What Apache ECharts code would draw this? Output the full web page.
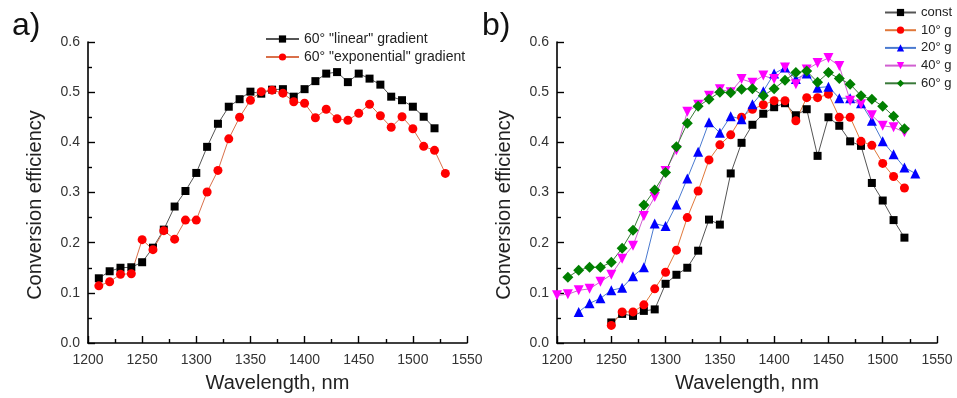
<!DOCTYPE html>
<html>
<head>
<meta charset="utf-8">
<script src="https://cdn.jsdelivr.net/npm/echarts@6/dist/echarts.min.js"></script>
<style>html,body{margin:0;padding:0;background:#fff;}#c{width:957px;height:398px;}</style>
</head>
<body>
<div id="c"></div>
<script>
// ---- Panel a data ----
const wlLinear = [1210,1220,1230,1240,1250,1260,1270,1280,1290,1300,1310,1320,1330,1340,1350,1360,1370,1380,1390,1400,1410,1420,1430,1440,1450,1460,1470,1480,1490,1500,1510,1520];
const effLinear = [0.129,0.143,0.150,0.151,0.161,0.190,0.226,0.272,0.303,0.339,0.391,0.437,0.471,0.486,0.501,0.497,0.505,0.506,0.491,0.506,0.522,0.537,0.540,0.520,0.537,0.527,0.515,0.491,0.484,0.471,0.451,0.428];
const wlExp = [1210,1220,1230,1240,1250,1260,1270,1280,1290,1300,1310,1320,1330,1340,1350,1360,1370,1380,1390,1400,1410,1420,1430,1440,1450,1460,1470,1480,1490,1500,1510,1520,1530];
const effExp = [0.114,0.122,0.137,0.138,0.206,0.186,0.224,0.207,0.245,0.245,0.301,0.344,0.407,0.450,0.484,0.501,0.504,0.498,0.481,0.478,0.449,0.466,0.447,0.444,0.458,0.476,0.453,0.430,0.451,0.427,0.392,0.384,0.338];

// ---- Panel b data ----
const wlConst = [1250,1260,1270,1280,1290,1300,1310,1320,1330,1340,1350,1360,1370,1380,1390,1400,1410,1420,1430,1440,1450,1460,1470,1480,1490,1500,1510,1520];
const effConst = [0.041,0.058,0.054,0.064,0.067,0.118,0.136,0.150,0.184,0.246,0.236,0.338,0.399,0.435,0.457,0.470,0.478,0.454,0.466,0.373,0.450,0.433,0.402,0.393,0.319,0.284,0.245,0.210];
const wl10 = [1250,1260,1270,1280,1290,1300,1310,1320,1330,1340,1350,1360,1370,1380,1390,1400,1410,1420,1430,1440,1450,1460,1470,1480,1490,1500,1510,1520];
const eff10 = [0.035,0.062,0.062,0.076,0.108,0.141,0.185,0.250,0.303,0.365,0.395,0.415,0.450,0.466,0.475,0.483,0.483,0.443,0.489,0.489,0.496,0.450,0.450,0.402,0.394,0.358,0.332,0.309];
const wl20 = [1220,1230,1240,1250,1260,1270,1280,1290,1300,1310,1320,1330,1340,1350,1360,1370,1380,1390,1400,1410,1420,1430,1440,1450,1460,1470,1480,1490,1500,1510,1520,1530];
const eff20 = [0.062,0.079,0.089,0.105,0.110,0.133,0.151,0.238,0.233,0.276,0.328,0.381,0.440,0.419,0.452,0.446,0.476,0.502,0.537,0.549,0.526,0.537,0.509,0.511,0.488,0.488,0.478,0.443,0.402,0.376,0.350,0.338];
const wl40 = [1200,1210,1220,1230,1240,1250,1260,1270,1280,1290,1300,1310,1320,1330,1340,1350,1360,1370,1380,1390,1400,1410,1420,1430,1440,1450,1460,1470,1480,1490,1500,1510,1520];
const eff40 = [0.095,0.097,0.105,0.108,0.122,0.136,0.168,0.194,0.253,0.291,0.343,0.384,0.461,0.475,0.493,0.506,0.500,0.526,0.519,0.533,0.526,0.549,0.516,0.545,0.558,0.568,0.552,0.483,0.476,0.454,0.433,0.430,0.420];
const wl60 = [1210,1220,1230,1240,1250,1260,1270,1280,1290,1300,1310,1320,1330,1340,1350,1360,1370,1380,1390,1400,1410,1420,1430,1440,1450,1460,1470,1480,1490,1500,1510,1520];
const eff60 = [0.131,0.145,0.151,0.151,0.161,0.189,0.225,0.275,0.305,0.340,0.391,0.438,0.472,0.486,0.500,0.499,0.506,0.507,0.493,0.507,0.524,0.539,0.542,0.520,0.539,0.527,0.516,0.493,0.486,0.472,0.452,0.427];

const xTicks = [1200,1250,1300,1350,1400,1450,1500,1550];
const yTicks = [0.0,0.1,0.2,0.3,0.4,0.5,0.6];

const FONT = '"Liberation Sans", Arial, sans-serif';
const zip = (xs, ys) => xs.map((x, i) => [x, ys[i]]);

function xAxisFor(gi) {
  return {
    type: 'value', gridIndex: gi, min: xTicks[0], max: xTicks[xTicks.length - 1], interval: 50,
    name: 'Wavelength, nm', nameLocation: 'middle', nameGap: 30,
    nameTextStyle: { fontFamily: FONT, fontSize: 20, color: '#222' },
    axisLine: { show: true, onZero: false, lineStyle: { color: '#000', width: 1.6 } },
    axisTick: { show: true, inside: true, length: 7, lineStyle: { color: '#000', width: 1.4 } },
    minorTick: { show: true, splitNumber: 2, length: 4, lineStyle: { color: '#000', width: 1.4 } },
    splitLine: { show: false },
    axisLabel: { fontFamily: FONT, fontSize: 14, color: '#333', margin: 10, formatter: v => String(v) }
  };
}
function yAxisFor(gi) {
  return {
    type: 'value', gridIndex: gi, min: yTicks[0], max: yTicks[yTicks.length - 1], interval: 0.1,
    name: 'Conversion efficiency', nameLocation: 'middle', nameGap: 43,
    nameTextStyle: { fontFamily: FONT, fontSize: 20, color: '#222', padding: [0, 25, 0, 0] },
    axisLine: { show: true, onZero: false, lineStyle: { color: '#000', width: 1.6 } },
    axisTick: { show: true, inside: true, length: 7, lineStyle: { color: '#000', width: 1.4 } },
    minorTick: { show: true, splitNumber: 2, length: 4, lineStyle: { color: '#000', width: 1.4 } },
    splitLine: { show: false },
    axisLabel: { fontFamily: FONT, fontSize: 14, color: '#333', margin: 8, formatter: v => v.toFixed(1) }
  };
}
function ser(name, gi, xs, ys, symbol, size, mColor, lColor, rot) {
  return {
    name, type: 'line', xAxisIndex: gi, yAxisIndex: gi, data: zip(xs, ys),
    symbol, symbolSize: size, symbolRotate: rot || 0, showAllSymbol: true,
    itemStyle: { color: mColor, borderWidth: 0 },
    lineStyle: { color: lColor, width: 1 },
    emphasis: { disabled: true }, animation: false
  };
}

const chart = echarts.init(document.getElementById('c'), null, { renderer: 'canvas' });
chart.setOption({
  backgroundColor: '#fff',
  animation: false,
  grid: [
    { left: 88, right: 490, top: 42, bottom: 51 },
    { left: 557, right: 20, top: 42, bottom: 51 }
  ],
  xAxis: [xAxisFor(0), xAxisFor(1)],
  yAxis: [yAxisFor(0), yAxisFor(1)],
  legend: [
    {
      left: 260, top: 26, orient: 'vertical', itemWidth: 33, itemHeight: 9, itemGap: 2,
      textStyle: { fontFamily: FONT, fontSize: 14, color: '#222', lineHeight: 16 },
      data: ['60° "linear" gradient', '60° "exponential" gradient']
    },
    {
      left: 884, top: 5, orient: 'vertical', itemWidth: 31, itemHeight: 9, itemGap: 2.7,
      padding: 0,
      textStyle: { fontFamily: FONT, fontSize: 13, color: '#222', lineHeight: 15 },
      data: ['const', '10° g', '20° g', '40° g', '60° g']
    }
  ],
  graphic: [
    { type: 'text', left: 12, top: 10, style: { text: 'a)', font: '32px ' + FONT, fill: '#111' } },
    { type: 'text', left: 482, top: 10, style: { text: 'b)', font: '32px ' + FONT, fill: '#111' } }
  ],
  series: [
    ser('60° "linear" gradient', 0, wlLinear, effLinear, 'rect', 8, '#000', '#555'),
    ser('60° "exponential" gradient', 0, wlExp, effExp, 'circle', 9, '#ff0000', '#d9704a'),
    ser('const', 1, wlConst, effConst, 'rect', 8, '#000', '#555'),
    ser('10° g', 1, wl10, eff10, 'circle', 9, '#ff0000', '#e0783a'),
    ser('20° g', 1, wl20, eff20, 'triangle', 10, '#0000ff', '#4a7ad0'),
    ser('40° g', 1, wl40, eff40, 'triangle', 10, '#ff00ff', '#d060d0', 180),
    ser('60° g', 1, wl60, eff60, 'diamond', 11, '#008000', '#3a7a3a')
  ]
});
</script>
</body>
</html>
